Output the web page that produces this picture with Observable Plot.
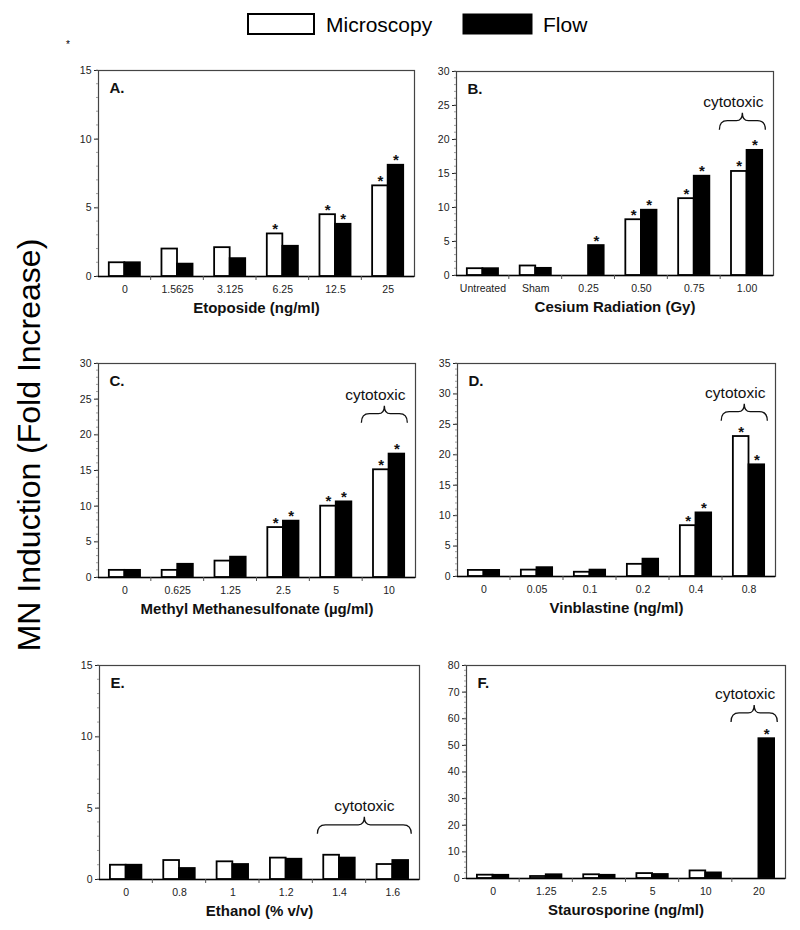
<!DOCTYPE html>
<html>
<head>
<meta charset="utf-8">
<script src="https://cdn.jsdelivr.net/npm/d3@7"></script>
<script src="https://cdn.jsdelivr.net/npm/@observablehq/plot@0.6"></script>
<style>
  body { margin: 0; background: #fff; }
  #fig { position: relative; width: 800px; height: 930px; font-family: 'Liberation Sans', Arial, sans-serif; }
  #fig > svg { position: absolute; }
</style>
</head>
<body>
<div id="fig"></div>
<script>
// ---------- DATA ----------
const seriesNames = ["Microscopy", "Flow"];
const yAxisTitle = "MN Induction (Fold Increase)";
const cytotoxicLabel = "cytotoxic";

// A. Etoposide
const aCategories = ["0", "1.5625", "3.125", "6.25", "12.5", "25"];
const aMicroscopy = [1.0, 2.0, 2.1, 3.1, 4.5, 6.6];
const aFlow       = [1.0, 0.9, 1.3, 2.2, 3.8, 8.1];
const aStarM      = [0, 0, 0, 1, 1, 1];
const aStarF      = [0, 0, 0, 0, 1, 1];

// B. Cesium Radiation
const bCategories = ["Untreated", "Sham", "0.25", "0.50", "0.75", "1.00"];
const bMicroscopy = [1.0, 1.4, null, 8.2, 11.3, 15.3];
const bFlow       = [1.0, 1.05, 4.4, 9.6, 14.6, 18.4];
const bStarM      = [0, 0, 0, 1, 1, 1];
const bStarF      = [0, 0, 1, 1, 1, 1];

// C. Methyl Methanesulfonate
const cCategories = ["0", "0.625", "1.25", "2.5", "5", "10"];
const cMicroscopy = [1.0, 1.0, 2.3, 7.0, 10.0, 15.1];
const cFlow       = [1.0, 1.85, 2.85, 7.9, 10.6, 17.3];
const cStarM      = [0, 0, 0, 1, 1, 1];
const cStarF      = [0, 0, 0, 1, 1, 1];

// D. Vinblastine
const dCategories = ["0", "0.05", "0.1", "0.2", "0.4", "0.8"];
const dMicroscopy = [1.0, 1.05, 0.7, 2.0, 8.35, 23.0];
const dFlow       = [1.0, 1.45, 1.05, 2.85, 10.45, 18.35];
const dStarM      = [0, 0, 0, 0, 1, 1];
const dStarF      = [0, 0, 0, 0, 1, 1];

// E. Ethanol
const eCategories = ["0", "0.8", "1", "1.2", "1.4", "1.6"];
const eMicroscopy = [1.0, 1.33, 1.24, 1.5, 1.7, 1.05];
const eFlow       = [1.0, 0.77, 1.05, 1.42, 1.5, 1.33];
const eStarM      = [0, 0, 0, 0, 0, 0];
const eStarF      = [0, 0, 0, 0, 0, 0];

// F. Staurosporine
const fCategories = ["0", "1.25", "2.5", "5", "10", "20"];
const fMicroscopy = [1.25, 0.75, 1.4, 1.85, 2.85, null];
const fFlow       = [1.2, 1.4, 1.2, 1.5, 2.1, 52.5];
const fStarM      = [0, 0, 0, 0, 0, 0];
const fStarF      = [0, 0, 0, 0, 0, 1];

// ---------- PANELS ----------
const panels = [
  {letter: "A.", title: "Etoposide (ng/ml)", cats: aCategories, micro: aMicroscopy, flow: aFlow, starM: aStarM, starF: aStarF,
   ymax: 15, yStep: 5, frame: {left: 98, right: 414, top: 70, bottom: 276}, brace: null},
  {letter: "B.", title: "Cesium Radiation (Gy)", cats: bCategories, micro: bMicroscopy, flow: bFlow, starM: bStarM, starF: bStarF,
   ymax: 30, yStep: 5, frame: {left: 456, right: 773, top: 71, bottom: 275}, brace: {cats: ["1.00"], level: 22.7}},
  {letter: "C.", title: "Methyl Methanesulfonate (\u00b5g/ml)", cats: cCategories, micro: cMicroscopy, flow: cFlow, starM: cStarM, starF: cStarF,
   ymax: 30, yStep: 5, frame: {left: 98, right: 415, top: 363, bottom: 577}, brace: {cats: ["10"], level: 22.9}},
  {letter: "D.", title: "Vinblastine (ng/ml)", cats: dCategories, micro: dMicroscopy, flow: dFlow, starM: dStarM, starF: dStarF,
   ymax: 35, yStep: 5, frame: {left: 457, right: 775, top: 363, bottom: 576}, brace: {cats: ["0.8"], level: 27}},
  {letter: "E.", title: "Ethanol (% v/v)", cats: eCategories, micro: eMicroscopy, flow: eFlow, starM: eStarM, starF: eStarF,
   ymax: 15, yStep: 5, frame: {left: 99, right: 419, top: 665, bottom: 879}, brace: {cats: ["1.4", "1.6"], level: 3.8}},
  {letter: "F.", title: "Staurosporine (ng/ml)", cats: fCategories, micro: fMicroscopy, flow: fFlow, starM: fStarM, starF: fStarF,
   ymax: 80, yStep: 10, frame: {left: 466, right: 785, top: 665, bottom: 878}, brace: {cats: ["20"], level: 62}}
];

const FONT = "'Liberation Sans', Arial, Helvetica, sans-serif";
const fig = document.getElementById("fig");

// overlay: legend, y title
const ov = d3.select(fig).append("svg")
  .attr("width", 800).attr("height", 930)
  .style("left", "0px").style("top", "0px")
  .style("font-family", FONT);
ov.append("rect").attr("x", 248).attr("y", 14).attr("width", 66).attr("height", 20)
  .attr("fill", "white").attr("stroke", "black").attr("stroke-width", 2);
ov.append("text").attr("x", 326).attr("y", 31.5).attr("font-size", 21).text(seriesNames[0]);
ov.append("rect").attr("x", 463).attr("y", 14).attr("width", 69).attr("height", 20)
  .attr("fill", "black").attr("stroke", "black").attr("stroke-width", 1);
ov.append("text").attr("x", 543).attr("y", 31.5).attr("font-size", 21).text(seriesNames[1]);
ov.append("text").attr("x", 68).attr("y", 48).attr("font-size", 10).attr("text-anchor", "middle").text("*");
ov.append("text").attr("transform", "translate(40,445) rotate(-90)")
  .attr("text-anchor", "middle").attr("font-size", 32).text(yAxisTitle);

function panel(cfg) {
  const {cats, micro, flow, starM, starF, ymax, yStep, letter, title, frame, brace} = cfg;
  const mL = 40, mR = 8, mT = 12, mB = 46;
  const width = mL + (frame.right - frame.left) + mR;
  const height = mT + (frame.bottom - frame.top) + mB;
  const rows = cats.map((c, i) => ({cat: c, micro: micro[i], flow: flow[i], sM: starM[i], sF: starF[i]}));
  const base = {
    width, height, marginLeft: mL, marginRight: mR, marginTop: mT, marginBottom: mB,
    style: {fontFamily: FONT, fontSize: "10.5px", color: "#222", background: "transparent", overflow: "visible"},
    x: {type: "band", domain: cats, paddingInner: 0.41, paddingOuter: 0.205, align: 0.5, round: false,
        label: null, tickSize: 0, tickPadding: 9},
    y: {domain: [0, ymax], ticks: d3.range(0, ymax + 1e-9, yStep), tickSize: 4, tickPadding: 3, label: null}
  };
  const probe = Plot.plot({...base, marks: [Plot.frame()]});
  const sx = probe.scale("x");
  const bw = sx.bandwidth, step = sx.step;

  const deco = (index, scales) => {
    const x = scales.x, y = scales.y;
    const g = d3.create("svg:g");
    const y0 = y(0);
    const first = x(cats[0]) - (step - bw) / 2;
    for (let i = 1; i < cats.length; i++) {
      const xb = first + i * step;
      g.append("line").attr("x1", xb).attr("x2", xb).attr("y1", y0).attr("y2", y0 + 4)
        .attr("stroke", "#555").attr("stroke-width", 1);
    }
    const minor = yStep / 5;
    for (let v = 0; v <= ymax + 1e-9; v += minor) {
      g.append("line").attr("x1", mL - 2).attr("x2", mL).attr("y1", y(v)).attr("y2", y(v))
        .attr("stroke", "#888").attr("stroke-width", 0.8);
    }
    if (brace) {
      const n = brace.cats.length;
      const xl = x(brace.cats[0]) - 0.22 * step / n;
      const xr = x(brace.cats[n - 1]) + bw + 0.06 * step;
      const cx = (xl + xr) / 2;
      const yl = y(brace.level);
      const p = `M${xl},${yl + 9} Q${xl},${yl} ${xl + 8},${yl} L${cx - 6},${yl} Q${cx},${yl} ${cx},${yl - 8} ` +
                `Q${cx},${yl} ${cx + 6},${yl} L${xr - 8},${yl} Q${xr},${yl} ${xr},${yl + 9}`;
      g.append("path").attr("d", p).attr("fill", "none").attr("stroke", "#111").attr("stroke-width", 1.3);
      g.append("text").attr("x", cx + (n === 1 ? -9 : 0)).attr("y", yl - 14).attr("text-anchor", "middle")
        .attr("font-size", 15.5).attr("fill", "#111").text(cytotoxicLabel);
    }
    return g.node();
  };

  const svg = Plot.plot({
    ...base,
    marks: [
      Plot.barY(rows.filter(d => d.micro != null), {x: "cat", y: "micro", insetRight: bw / 2,
        fill: "white", stroke: "black", strokeWidth: 1.8}),
      Plot.barY(rows.filter(d => d.flow != null), {x: "cat", y: "flow", insetLeft: bw / 2,
        fill: "black", stroke: "black", strokeWidth: 1.8}),
      Plot.text(rows.filter(d => d.sM), {x: "cat", y: "micro", text: () => "*", dx: -bw / 4, dy: 0,
        lineAnchor: "bottom", fontSize: 15, fontWeight: "bold", fill: "#111"}),
      Plot.text(rows.filter(d => d.sF), {x: "cat", y: "flow", text: () => "*", dx: bw / 4, dy: 0,
        lineAnchor: "bottom", fontSize: 15, fontWeight: "bold", fill: "#111"}),
      Plot.frame({stroke: "#444", strokeWidth: 1.2}),
      Plot.ruleY([0], {stroke: "black", strokeWidth: 1.6}),
      deco,
      Plot.text([letter], {frameAnchor: "top-left", dx: 11, dy: 12, lineAnchor: "top",
        fontSize: 15, fontWeight: "bold", fill: "#111"}),
      Plot.text([title], {frameAnchor: "bottom", dy: 32, lineAnchor: "middle",
        fontSize: 15, fontWeight: "bold", fill: "#111"})
    ]
  });
  svg.style.left = (frame.left - mL) + "px";
  svg.style.top = (frame.top - mT) + "px";
  fig.appendChild(svg);
}

panels.forEach(panel);
</script>
</body>
</html>
